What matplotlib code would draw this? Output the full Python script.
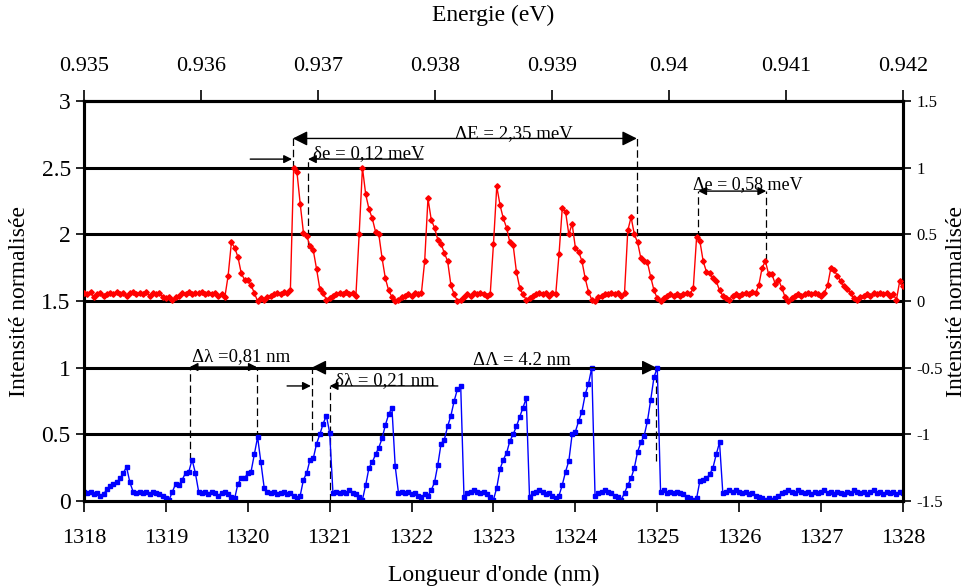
import numpy as np
import matplotlib
matplotlib.use('Agg')
import matplotlib.pyplot as plt
from matplotlib.ticker import FormatStrFormatter

plt.rcParams['font.family'] = ['Liberation Serif', 'DejaVu Serif']
plt.rcParams['axes.unicode_minus'] = False

# wavelength grid (nm), one sample every 0.04 nm
lam = 1318 + 0.04 * np.arange(251)

# red spectrum, normalised (right axis)
red = [0.06, 0.05, 0.07, 0.03, 0.05, 0.06, 0.04, 0.05, 0.06, 0.05,
       0.07, 0.05, 0.06, 0.04, 0.06, 0.07, 0.05, 0.06, 0.05, 0.07,
       0.04, 0.06, 0.05, 0.06, 0.03, 0.02, 0.03, 0.01, 0.03, 0.04,
       0.06, 0.05, 0.07, 0.05, 0.06, 0.06, 0.07, 0.05, 0.06, 0.05,
       0.06, 0.04, 0.05, 0.03, 0.19, 0.44, 0.40, 0.33, 0.21, 0.16,
       0.16, 0.12, 0.06, 0.00, 0.02, 0.01, 0.03, 0.04, 0.05, 0.06,
       0.05, 0.07, 0.06, 0.08, 1.00, 0.97, 0.73, 0.51, 0.49, 0.41,
       0.38, 0.24, 0.09, 0.06, 0.01, 0.02, 0.04, 0.05, 0.06, 0.05,
       0.07, 0.05, 0.06, 0.04, 0.50, 1.00, 0.80, 0.69, 0.62, 0.52,
       0.50, 0.32, 0.17, 0.08, 0.03, 0.00, 0.01, 0.03, 0.04, 0.05,
       0.04, 0.06, 0.05, 0.06, 0.30, 0.77, 0.61, 0.55, 0.46, 0.43,
       0.36, 0.30, 0.12, 0.05, 0.00, 0.01, 0.03, 0.05, 0.04, 0.06,
       0.05, 0.06, 0.05, 0.04, 0.05, 0.43, 0.86, 0.72, 0.62, 0.55,
       0.44, 0.42, 0.22, 0.10, 0.05, 0.01, 0.02, 0.04, 0.05, 0.06,
       0.05, 0.06, 0.04, 0.06, 0.05, 0.35, 0.70, 0.67, 0.50, 0.58,
       0.40, 0.37, 0.30, 0.17, 0.07, 0.01, 0.00, 0.03, 0.04, 0.05,
       0.05, 0.06, 0.05, 0.06, 0.04, 0.06, 0.53, 0.63, 0.50, 0.44,
       0.32, 0.30, 0.29, 0.18, 0.08, 0.02, 0.00, 0.02, 0.04, 0.05,
       0.04, 0.05, 0.04, 0.05, 0.06, 0.05, 0.10, 0.48, 0.45, 0.30,
       0.22, 0.21, 0.17, 0.15, 0.08, 0.04, 0.02, 0.01, 0.04, 0.05,
       0.04, 0.05, 0.06, 0.05, 0.07, 0.06, 0.12, 0.25, 0.30, 0.20,
       0.20, 0.13, 0.16, 0.10, 0.03, 0.00, 0.02, 0.04, 0.05, 0.04,
       0.05, 0.06, 0.05, 0.06, 0.05, 0.04, 0.06, 0.12, 0.25, 0.23,
       0.19, 0.15, 0.11, 0.09, 0.06, 0.02, 0.01, 0.03, 0.04, 0.05,
       0.04, 0.06, 0.05, 0.06, 0.05, 0.06, 0.04, 0.05, 0.01, 0.15,
       0.11]

# blue spectrum, normalised (left axis)
blue = [0.07, 0.06, 0.07, 0.05, 0.06, 0.04, 0.05, 0.09, 0.11, 0.13,
        0.14, 0.17, 0.21, 0.255, 0.14, 0.07, 0.06, 0.07, 0.06, 0.07,
        0.05, 0.07, 0.06, 0.05, 0.04, 0.02, 0.01, 0.07, 0.13, 0.12,
        0.16, 0.21, 0.22, 0.31, 0.21, 0.07, 0.06, 0.07, 0.05, 0.07,
        0.06, 0.04, 0.06, 0.07, 0.05, 0.03, 0.02, 0.13, 0.17, 0.17,
        0.21, 0.22, 0.35, 0.48, 0.29, 0.10, 0.07, 0.06, 0.07, 0.05,
        0.06, 0.07, 0.05, 0.06, 0.04, 0.02, 0.04, 0.16, 0.21, 0.31,
        0.32, 0.43, 0.50, 0.58, 0.64, 0.51, 0.06, 0.07, 0.06, 0.07,
        0.06, 0.08, 0.06, 0.05, 0.03, 0.01, 0.12, 0.25, 0.29, 0.35,
        0.40, 0.47, 0.57, 0.65, 0.70, 0.26, 0.06, 0.07, 0.06, 0.07,
        0.05, 0.06, 0.04, 0.03, 0.05, 0.04, 0.08, 0.14, 0.27, 0.43,
        0.46, 0.56, 0.64, 0.75, 0.84, 0.86, 0.03, 0.06, 0.07, 0.08,
        0.07, 0.06, 0.07, 0.05, 0.03, 0.01, 0.10, 0.24, 0.31, 0.36,
        0.45, 0.50, 0.56, 0.63, 0.70, 0.77, 0.03, 0.06, 0.07, 0.08,
        0.07, 0.05, 0.06, 0.04, 0.02, 0.04, 0.12, 0.22, 0.30, 0.50,
        0.52, 0.60, 0.67, 0.80, 0.88, 1.00, 0.04, 0.06, 0.07, 0.08,
        0.07, 0.06, 0.04, 0.03, 0.01, 0.06, 0.12, 0.17, 0.25, 0.37,
        0.44, 0.49, 0.60, 0.76, 0.93, 1.00, 0.07, 0.08, 0.06, 0.07,
        0.06, 0.07, 0.06, 0.05, 0.03, 0.02, 0.01, 0.02, 0.15, 0.16,
        0.17, 0.20, 0.25, 0.35, 0.44, 0.06, 0.07, 0.08, 0.07, 0.08,
        0.07, 0.06, 0.07, 0.05, 0.06, 0.04, 0.03, 0.02, 0.01, 0.02,
        0.01, 0.02, 0.04, 0.06, 0.07, 0.08, 0.07, 0.06, 0.08, 0.07,
        0.06, 0.07, 0.05, 0.07, 0.06, 0.07, 0.08, 0.06, 0.07, 0.05,
        0.07, 0.06, 0.05, 0.07, 0.06, 0.08, 0.07, 0.06, 0.07, 0.05,
        0.07, 0.08, 0.06, 0.07, 0.05, 0.07, 0.06, 0.07, 0.05, 0.07,
        0.06]

lam_ticks = np.arange(1318, 1329, 1)
e_ticks = [0.935, 0.936, 0.937, 0.938, 0.939, 0.94, 0.941, 0.942]


def nm_to_ev(x):
    return 0.935 + (np.asarray(x) - 1318) * 0.0007


def ev_to_nm(e):
    return 1318 + (np.asarray(e) - 0.935) / 0.0007


fig = plt.figure(figsize=(9.72, 5.88), dpi=100)
ax = fig.add_axes([0.0864, 0.148, 0.8426, 0.680])
ax2 = ax.twinx()

# thick horizontal guide lines
for y in [0.5, 1.0, 1.5, 2.0, 2.5]:
    ax.axhline(y, color='k', lw=2.2, zorder=1)

ax.plot(lam, blue, color='#0000ff', lw=1, marker='s', ms=3.2, zorder=3)
ax2.plot(lam, red, color='#ff0000', lw=1, marker='D', ms=2.8, zorder=3)

ax.set_xlim(1318, 1328)
ax.set_ylim(0, 3)
ax2.set_ylim(-1.5, 1.5)
ax.set_xticks(lam_ticks)
ax.set_yticks(np.arange(0, 3.01, 0.5))
ax2.set_yticks(np.arange(-1.5, 1.51, 0.5))
ax.yaxis.set_major_formatter(FormatStrFormatter('%g'))
ax2.yaxis.set_major_formatter(FormatStrFormatter('%g'))

for a in (ax, ax2):
    for s in a.spines.values():
        s.set_linewidth(2.2)
ax.tick_params(axis='x', direction='out', length=8, width=1.2, labelsize=16, pad=12)
ax.tick_params(axis='y', direction='out', length=6, width=1.2, labelsize=17)
ax2.tick_params(axis='y', direction='out', length=6, width=1.2, labelsize=12)

top = ax.secondary_xaxis('top', functions=(nm_to_ev, ev_to_nm))
top.set_xticks(e_ticks)
top.xaxis.set_major_formatter(FormatStrFormatter('%g'))
top.tick_params(direction='out', length=8, width=1.2, labelsize=16, pad=10)
top.spines['top'].set_linewidth(2.2)
top.set_xlabel('Energie (eV)', fontsize=17, labelpad=26)

ax.set_xlabel("Longueur d'onde (nm)", fontsize=17, labelpad=12)
ax.set_ylabel('Intensité normalisée', fontsize=17, labelpad=8)
ax2.set_ylabel('Intensité normalisée', fontsize=17, labelpad=2)

dash = (0, (6, 3))
big = dict(arrowstyle='<|-|>', color='k', lw=1, mutation_scale=22,
           shrinkA=0, shrinkB=0)
small2 = dict(arrowstyle='<|-|>', color='k', lw=1, mutation_scale=12,
              shrinkA=0, shrinkB=0)
small = dict(arrowstyle='-|>', color='k', lw=1, mutation_scale=12,
             shrinkA=0, shrinkB=0)
fs = 13.5

# energy spacings on the red spectrum
ax.annotate('', xy=(1324.75, 2.72), xytext=(1320.55, 2.72), arrowprops=big, zorder=4)
ax.text(1323.25, 2.725, 'ΔE = 2,35 meV', fontsize=fs, ha='center', va='baseline')
ax.vlines([1320.55], 2.5, 2.72, colors='k', lw=0.9, linestyles=dash)
ax.vlines([1324.75], 1.99, 2.72, colors='k', lw=0.9, linestyles=dash)

ax.annotate('', xy=(1320.54, 2.565), xytext=(1320.03, 2.565), arrowprops=small)
ax.annotate('', xy=(1320.735, 2.565), xytext=(1322.14, 2.565), arrowprops=small)
ax.text(1320.80, 2.575, 'δe = 0,12 meV', fontsize=fs, ha='left', va='baseline')
ax.vlines([1320.735], 1.90, 2.565, colors='k', lw=0.9, linestyles=dash)

ax.annotate('', xy=(1326.33, 2.325), xytext=(1325.50, 2.325), arrowprops=small2)
ax.text(1325.44, 2.34, 'Δe = 0,58 meV', fontsize=13, ha='left', va='baseline')
ax.vlines([1325.50], 1.97, 2.325, colors='k', lw=0.9, linestyles=dash)
ax.vlines([1326.33], 1.80, 2.325, colors='k', lw=0.9, linestyles=dash)

# wavelength spacings on the blue spectrum
ax.annotate('', xy=(1320.11, 1.005), xytext=(1319.29, 1.005), arrowprops=small2)
ax.text(1319.32, 1.05, 'Δλ =0,81 nm', fontsize=fs, ha='left', va='baseline')
ax.vlines([1319.29], 0.31, 1.005, colors='k', lw=0.9, linestyles=dash)
ax.vlines([1320.11], 0.47, 1.005, colors='k', lw=0.9, linestyles=dash)

ax.annotate('', xy=(1324.99, 1.0), xytext=(1320.78, 1.0), arrowprops=big, zorder=4)
ax.text(1323.35, 1.02, 'ΔΛ = 4.2 nm', fontsize=fs, ha='center', va='baseline')
ax.vlines([1320.78], 0.45, 1.0, colors='k', lw=0.9, linestyles=dash)
ax.vlines([1324.99], 0.30, 1.0, colors='k', lw=0.9, linestyles=dash)

ax.annotate('', xy=(1320.77, 0.863), xytext=(1320.48, 0.863), arrowprops=small)
ax.annotate('', xy=(1321.0, 0.863), xytext=(1322.32, 0.863), arrowprops=small)
ax.text(1321.06, 0.873, 'δλ = 0,21 nm', fontsize=fs, ha='left', va='baseline')
ax.vlines([1321.0], 0.0, 0.863, colors='k', lw=0.9, linestyles=dash)

fig.savefig('out.png', dpi=100)
